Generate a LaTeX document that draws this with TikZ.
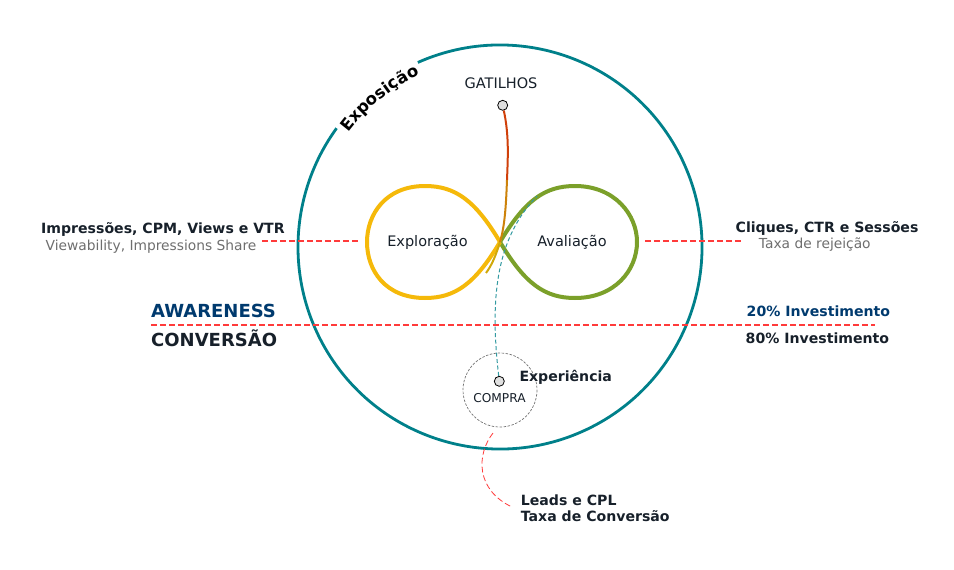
\documentclass[tikz,border=0pt]{standalone}
\usepackage{fontspec}
\setmainfont{DejaVu Sans}
\usetikzlibrary{decorations.text}

\definecolor{ringteal}{HTML}{00808A}
\definecolor{lobeyellow}{HTML}{F5B90A}
\definecolor{lobegreen}{HTML}{7BA02A}
\definecolor{cutred}{HTML}{FF3B3B}
\definecolor{inkdark}{HTML}{17202A}
\definecolor{inkblue}{HTML}{003A6E}
\definecolor{inkgray}{HTML}{6E6E6E}

\begin{document}
\begin{tikzpicture}[
    x=1pt, y=-1pt,
    dot/.style={circle, draw=black, fill=black!12, line width=0.8pt, inner sep=0pt, minimum size=10pt},
    metric/.style={anchor=base west, inner sep=0pt, text=inkdark, font=\fontsize{14.1}{16}\selectfont\bfseries},
    submetric/.style={anchor=base west, inner sep=0pt, text=inkgray, font=\fontsize{13.8}{16}\selectfont},
    stage/.style={anchor=base west, inner sep=0pt, font=\fontsize{18}{20}\selectfont\bfseries},
    lobelabel/.style={anchor=base, inner sep=0pt, text=inkdark, font=\fontsize{14.5}{16}\selectfont},
    cut/.style={draw=cutred, line width=2pt, dash pattern=on 6pt off 3pt},
    lobe/.style={line width=4pt}
]
    \useasboundingbox (0,0) rectangle (954,570);

    % --- Outer ring with the gap for the label ---
    \coordinate (ctr) at (500,247);
    \draw[ringteal, line width=2.8pt] (ctr) ++(246:202) arc[start angle=246, end angle=576, radius=202];
    \path[decorate, decoration={text along path, text align=center,
        text={|\fontsize{16.5}{18}\selectfont\bfseries|Exposição}}]
        (ctr) ++(212:190) arc[start angle=212, end angle=250, radius=190];

    % --- Infinity loop ---
    \coordinate (cross) at (500,242);
    \draw[lobe, lobegreen] (cross) .. controls (525,200) and (545,186) .. (575,186)
        .. controls (615,186) and (637,215) .. (637,242)
        .. controls (637,270) and (615,298) .. (575,298)
        .. controls (545,298) and (525,284) .. (cross);
    \draw[lobe, lobeyellow] (cross) .. controls (475,200) and (455,186) .. (425,186)
        .. controls (385,186) and (367,215) .. (367,242)
        .. controls (367,270) and (385,298) .. (425,298)
        .. controls (455,298) and (475,284) .. (cross);
    \node[lobelabel] (explo) at (427.5,246) {Exploração};
    \node[lobelabel] (aval) at (572,246) {Avaliação};

    % --- Gatilhos ---
    \node[lobelabel] (gatlabel) at (501,88.3) {GATILHOS};
    \node[dot] (gat) at (502.7,105.3) {};
    \coordinate (g1) at (507,180);
    \coordinate (g2) at (486,273);
    \draw[line width=2pt, color={rgb,255:red,208;green,64;blue,10}] (gat) .. controls (509,135) and (508,155) .. (g1);
    \draw[line width=2pt, color={rgb,255:red,205;green,130;blue,10}] (g1) .. controls (506,205) and (505,225) .. (cross);
    \draw[line width=2pt, color={rgb,255:red,208;green,168;blue,10}] (cross) .. controls (496,255) and (492,265) .. (g2);

    % --- Metrics on both sides ---
    \node[metric] (impr) at (41,233) {Impressões, CPM, Views e VTR};
    \node[submetric] (view) at (45.5,250) {Viewability, Impressions Share};
    \node[metric] (cliq) at (735.5,232.7) {Cliques, CTR e Sessões};
    \node[submetric] (rej) at (758.7,248.3) {Taxa de rejeição};
    \coordinate (l1) at (262,241);
    \coordinate (l2) at (358,241);
    \coordinate (r1) at (645,241);
    \coordinate (r2) at (742,241);
    \draw[cut] (l1) -- (l2);
    \draw[cut] (r1) -- (r2);

    % --- Awareness / conversion split ---
    \node[stage, text=inkblue] (aware) at (151,317.3) {AWARENESS};
    \node[stage, text=inkdark] (conv) at (151,346.7) {CONVERSÃO};
    \node[metric, text=inkblue] (inv20) at (746.5,316.7) {20\% Investimento};
    \node[metric] (inv80) at (745.5,343.3) {80\% Investimento};
    \coordinate (s1) at (151,325);
    \coordinate (s2) at (875,325);
    \draw[cut] (s1) -- (s2);

    % --- Compra ---
    \draw[black!55, line width=0.7pt, dash pattern=on 2.5pt off 1.5pt] (500,390) circle[radius=37];
    \node[dot] (compra) at (499.3,381.3) {};
    \node[lobelabel, font=\fontsize{12.2}{14}\selectfont] (compralabel) at (499.5,402.3) {COMPRA};
    \node[metric] (exper) at (519.3,381.7) {Experiência};
    \coordinate (avtop) at (537,196);
    \draw[ringteal!80, line width=1pt, dash pattern=on 4pt off 2.5pt] (compra) .. controls (490,300) and (495,240) .. (avtop);

    % --- Leads ---
    \node[metric] (leads) at (520.7,505) {Leads e CPL};
    \node[metric] (taxa) at (520.7,521.7) {Taxa de Conversão};
    \coordinate (c1) at (493,433);
    \coordinate (c2) at (512,507);
    \draw[cutred, line width=0.8pt, dash pattern=on 6pt off 3pt] (c1) .. controls (476,455) and (476,490) .. (c2);
\end{tikzpicture}
\end{document}
